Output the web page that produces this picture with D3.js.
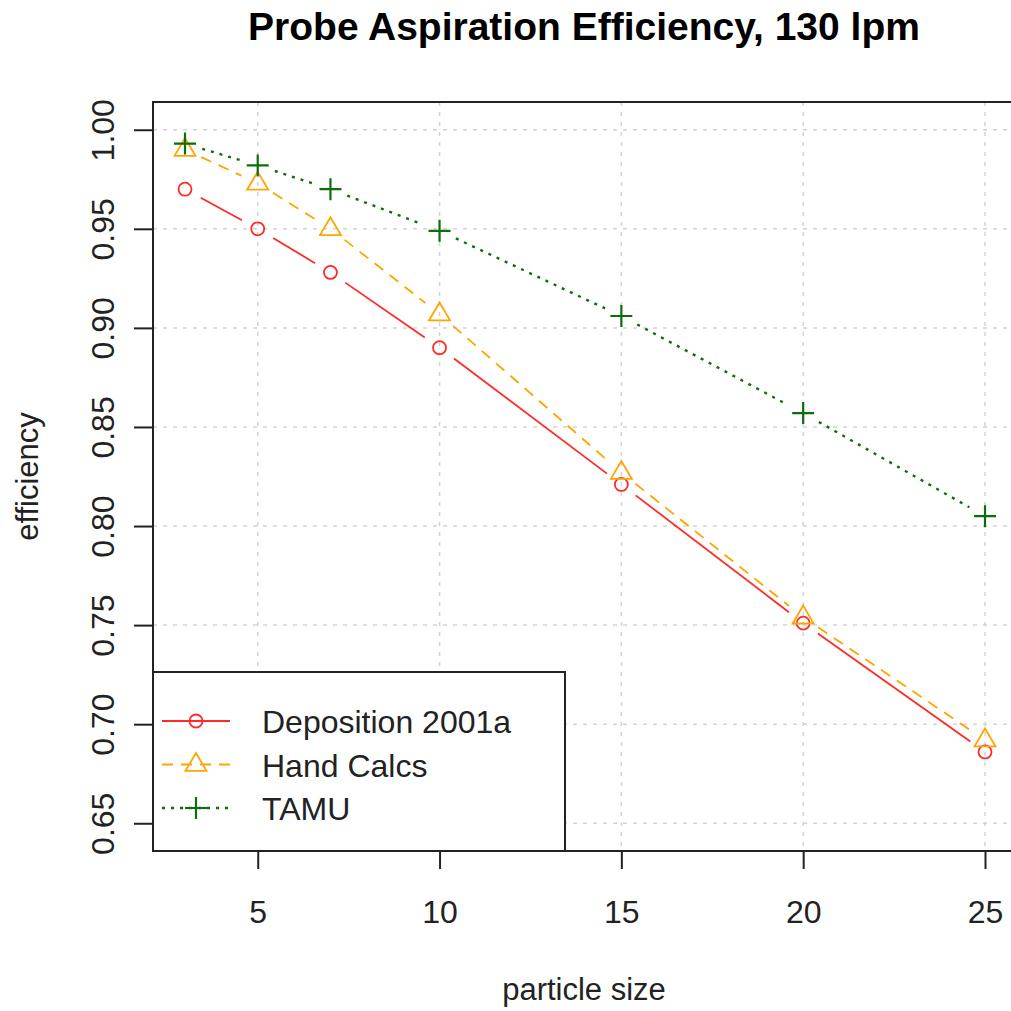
<!DOCTYPE html>
<html>
<head>
<meta charset="utf-8">
<script src="https://cdn.jsdelivr.net/npm/d3@7"></script>
<style>
body { margin: 0; background: #fff; }
text { font-family: "Liberation Sans", Arial, sans-serif; fill: #222; }
</style>
</head>
<body>
<svg id="chart" width="1011" height="1011"></svg>
<script>
// values
var particleSize = [3, 5, 7, 10, 15, 20, 25];
var deposition = [0.970, 0.950, 0.928, 0.890, 0.821, 0.751, 0.686];
var handCalcs = [0.990, 0.973, 0.950, 0.907, 0.827, 0.754, 0.692];
var tamu = [0.993, 0.982, 0.970, 0.949, 0.906, 0.857, 0.805];
var seriesNames = ["Deposition 2001a", "Hand Calcs", "TAMU"];
var xTicks = [5, 10, 15, 20, 25];
var yTicks = [0.65, 0.70, 0.75, 0.80, 0.85, 0.90, 0.95, 1.00];

function drawChart() {
    var svg = d3.select("#chart");
    var plotLeft = 153, plotRight = 1017, plotTop = 102, plotBottom = 851;

    // R style: 4% padding round the data / ylim range
    var x = d3.scaleLinear().domain([2.12, 25.88]).range([plotLeft, plotRight]);
    var y = d3.scaleLinear().domain([0.636, 1.014]).range([plotBottom, plotTop]);

    var series = [
        {name: seriesNames[0], values: deposition, color: "#ff2a2a", dash: null, width: 1.8, pch: "circle"},
        {name: seriesNames[1], values: handCalcs, color: "#ffa500", dash: "11,8", width: 1.8, pch: "triangle"},
        {name: seriesNames[2], values: tamu, color: "#0b6e0b", dash: "3,6", width: 2.4, pch: "plus"}
    ];

    // grid
    var grid = svg.append("g").attr("stroke", "#d3d3d3").attr("stroke-width", 1.5).attr("stroke-dasharray", "4,6");
    grid.selectAll(".vg").data(xTicks).join("line")
        .attr("x1", d => x(d)).attr("x2", d => x(d)).attr("y1", plotTop).attr("y2", plotBottom);
    grid.selectAll(".hg").data(yTicks).join("line")
        .attr("x1", plotLeft).attr("x2", plotRight).attr("y1", d => y(d)).attr("y2", d => y(d));

    function drawSymbol(g, type, cx, cy, color) {
        if (type == "circle") {
            g.append("circle").attr("cx", cx).attr("cy", cy).attr("r", 6.5)
                .attr("fill", "none").attr("stroke", color).attr("stroke-width", 1.8);
        } else if (type == "triangle") {
            var s = 10.5;
            g.append("path")
                .attr("d", "M" + (cx - s) + "," + (cy + s * 0.6) + "L" + cx + "," + (cy - s * 1.1) + "L" + (cx + s) + "," + (cy + s * 0.6) + "Z")
                .attr("fill", "none").attr("stroke", color).attr("stroke-width", 1.8);
        } else {
            var p = 11;
            g.append("path")
                .attr("d", "M" + (cx - p) + "," + cy + "H" + (cx + p) + "M" + cx + "," + (cy - p) + "V" + (cy + p))
                .attr("stroke", color).attr("stroke-width", 2.2);
        }
    }

    // lines with gaps round the points (type = "b")
    var gap = 18;
    series.forEach(function (s) {
        var g = svg.append("g");
        for (var i = 0; i < particleSize.length - 1; i++) {
            var x1 = x(particleSize[i]), y1 = y(s.values[i]);
            var x2 = x(particleSize[i + 1]), y2 = y(s.values[i + 1]);
            var len = Math.hypot(x2 - x1, y2 - y1);
            var ux = (x2 - x1) / len, uy = (y2 - y1) / len;
            g.append("line")
                .attr("x1", x1 + ux * gap).attr("y1", y1 + uy * gap)
                .attr("x2", x2 - ux * gap).attr("y2", y2 - uy * gap)
                .attr("stroke", s.color).attr("stroke-width", s.width)
                .attr("stroke-dasharray", s.dash);
        }
        particleSize.forEach(function (p, i) {
            drawSymbol(g, s.pch, x(p), y(s.values[i]), s.color);
        });
    });

    // axes
    var xAxis = svg.append("g").attr("transform", "translate(0," + plotBottom + ")")
        .call(d3.axisBottom(x).tickValues(xTicks).tickSize(18).tickPadding(31).tickFormat(d3.format("d")));
    xAxis.select(".domain").remove();
    xAxis.selectAll("line").attr("stroke", "#222").attr("stroke-width", 2);
    xAxis.selectAll("text").attr("font-size", 32).attr("fill", "#222").attr("font-family", null);

    var yAxis = svg.append("g").attr("transform", "translate(" + plotLeft + ",0)")
        .call(d3.axisLeft(y).tickValues(yTicks).tickSize(19).tickFormat(d3.format(".2f")));
    yAxis.select(".domain").remove();
    yAxis.selectAll("line").attr("stroke", "#222").attr("stroke-width", 2);
    yAxis.selectAll("text").remove();
    yAxis.selectAll(".tick").append("text")
        .attr("transform", "translate(-39,0) rotate(-90)")
        .attr("text-anchor", "middle")
        .attr("font-size", 32)
        .text(d => d3.format(".2f")(d));

    // box
    svg.append("rect").attr("x", plotLeft).attr("y", plotTop)
        .attr("width", plotRight - plotLeft).attr("height", plotBottom - plotTop)
        .attr("fill", "none").attr("stroke", "#222").attr("stroke-width", 2);

    // legend
    var legend = svg.append("g");
    legend.append("rect").attr("x", 153).attr("y", 672).attr("width", 412).attr("height", 179)
        .attr("fill", "#fff").attr("stroke", "#222").attr("stroke-width", 2);
    series.forEach(function (s, i) {
        var cy = 721 + i * 43.5;
        legend.append("line").attr("x1", 162).attr("x2", 230).attr("y1", cy).attr("y2", cy)
            .attr("stroke", s.color).attr("stroke-width", s.width).attr("stroke-dasharray", s.dash);
        drawSymbol(legend, s.pch, 196, cy, s.color);
        legend.append("text").attr("x", 262).attr("y", cy + 12).attr("font-size", 32).text(s.name);
    });

    // titles
    svg.append("text").attr("x", 584).attr("y", 40).attr("text-anchor", "middle")
        .attr("font-size", 39).attr("font-weight", "bold").style("fill", "#000")
        .text("Probe Aspiration Efficiency, 130 lpm");
    svg.append("text").attr("x", 584).attr("y", 1000).attr("text-anchor", "middle")
        .attr("font-size", 31).text("particle size");
    svg.append("text").attr("transform", "translate(38," + ((plotTop + plotBottom) / 2) + ") rotate(-90)")
        .attr("text-anchor", "middle").attr("font-size", 31).text("efficiency");
}

drawChart();
</script>
</body>
</html>
